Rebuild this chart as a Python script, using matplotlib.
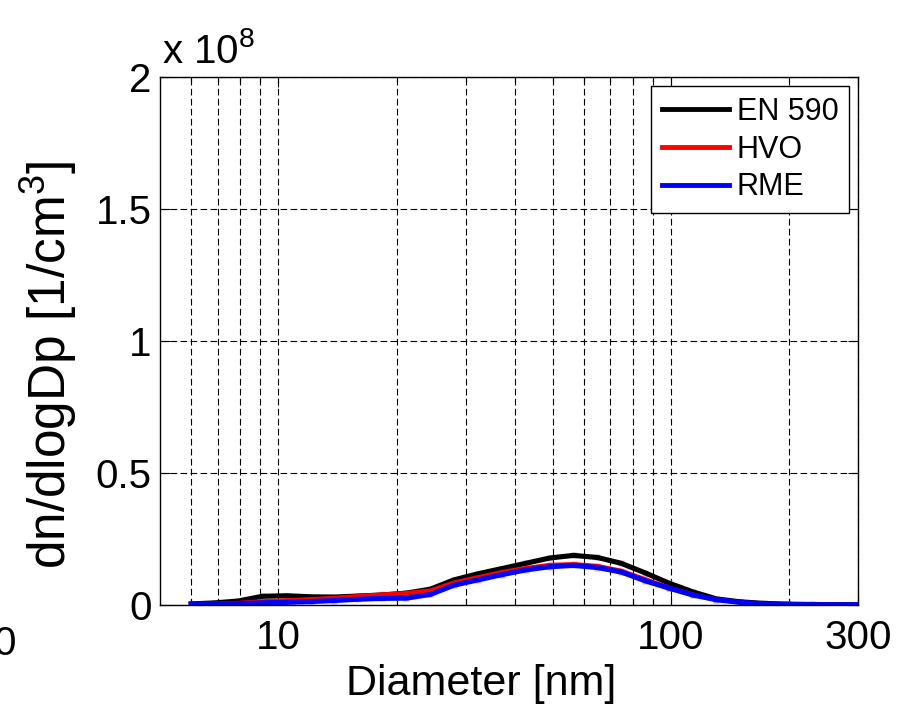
import matplotlib
matplotlib.use('Agg')
import matplotlib.pyplot as plt
from matplotlib.ticker import FixedLocator, NullFormatter

plt.rcParams['font.family'] = ['Liberation Sans', 'DejaVu Sans']
plt.rcParams['mathtext.default'] = 'regular'

# Данные: диаметры частиц [nm] и dn/dlogDp в единицах 1e8 1/cm^3
diameter = [6.0, 6.9, 7.9, 9.1, 10.5, 12.1, 13.9, 16.0, 18.4, 21.2, 24.4, 28.0,
            32.2, 37.1, 42.7, 49.1, 56.5, 65.0, 74.7, 85.9, 98.8, 113.6, 130.6,
            150.2, 172.7, 198.6, 228.4, 262.7, 300.0]
en590 = [0.004, 0.008, 0.015, 0.033, 0.035, 0.031, 0.030, 0.034, 0.038, 0.045,
         0.060, 0.095, 0.118, 0.138, 0.158, 0.178, 0.188, 0.180, 0.158, 0.122,
         0.083, 0.050, 0.023, 0.012, 0.006, 0.003, 0.002, 0.001, 0.001]
hvo = [0.003, 0.005, 0.008, 0.014, 0.018, 0.022, 0.027, 0.034, 0.040, 0.045,
       0.055, 0.085, 0.105, 0.125, 0.140, 0.152, 0.155, 0.148, 0.130, 0.098,
       0.066, 0.040, 0.020, 0.010, 0.004, 0.002, 0.001, 0.001, 0.001]
rme = [0.003, 0.004, 0.005, 0.008, 0.010, 0.013, 0.017, 0.022, 0.025, 0.026,
       0.040, 0.075, 0.095, 0.115, 0.133, 0.145, 0.150, 0.142, 0.125, 0.092,
       0.064, 0.038, 0.020, 0.010, 0.004, 0.002, 0.001, 0.001, 0.001]

x_ticks = [10, 100, 300]
x_minor = [6, 7, 8, 9, 20, 30, 40, 50, 60, 70, 80, 90, 200]
y_ticks = [0, 0.5, 1, 1.5, 2]

fig = plt.figure(figsize=(9, 7.09), dpi=100)
ax = fig.add_axes([0.178, 0.1467, 0.7755, 0.7443])

# Точки измерений (бледные маркеры)
ax.plot(diameter, en590, 's', color='#a0a0a0', ms=4, alpha=0.6, mec='none')
ax.plot(diameter, hvo, 's', color='#ff9090', ms=4, alpha=0.6, mec='none')
ax.plot(diameter, rme, 's', color='#9090ff', ms=4, alpha=0.6, mec='none')

# Кривые
ax.plot(diameter, en590, color='black', lw=3.7, label='EN 590', solid_joinstyle='round')
ax.plot(diameter, hvo, color='red', lw=3, label='HVO', solid_joinstyle='round')
ax.plot(diameter, rme, color='blue', lw=3.7, label='RME', solid_joinstyle='round')

ax.set_xscale('log')
ax.set_xlim(5, 300)
ax.set_ylim(0, 2)
ax.xaxis.set_major_locator(FixedLocator(x_ticks))
ax.xaxis.set_minor_locator(FixedLocator(x_minor))
ax.xaxis.set_minor_formatter(NullFormatter())
ax.set_xticklabels([str(t) for t in x_ticks])
ax.set_yticks(y_ticks)
ax.set_yticklabels(['0', '0.5', '1', '1.5', '2'])

ax.tick_params(which='both', direction='in', top=True, right=True,
               labelsize=29, width=0.8)
ax.tick_params(axis='x', which='major', length=7, pad=10)
ax.tick_params(axis='x', which='minor', length=4)
ax.tick_params(axis='y', length=7, pad=6)

ax.grid(True, which='both', axis='x', color='black', lw=0.8, ls=(0, (6, 3)))
ax.grid(True, which='major', axis='y', color='black', lw=0.8, ls=(0, (6, 3)))
for s in ax.spines.values():
    s.set_linewidth(1)

ax.set_xlabel('Diameter [nm]', fontsize=31)
ax.xaxis.set_label_coords(0.46, -0.112)
ax.set_ylabel('dn/dlogDp [1/cm$^3$]', fontsize=37)
ax.yaxis.set_label_coords(-0.117, 0.455)

# множитель оси Y и обрезанная подпись слева
fig.text(162 / 900, 1 - 63 / 709, 'x 10$^8$', fontsize=29, va='baseline', ha='left')
fig.text(5 / 900, 1 - 655 / 709, '0', fontsize=29, va='baseline', ha='center')

leg = ax.legend(loc='upper right', fontsize=22, fancybox=False, framealpha=1,
                edgecolor='black', borderaxespad=0.3, handlelength=2.2,
                handletextpad=0.25, labelspacing=0.25, borderpad=0.35)
leg.get_frame().set_linewidth(1)
for line in leg.get_lines():
    line.set_linewidth(3.5)

fig.savefig('out.png', dpi=100)
